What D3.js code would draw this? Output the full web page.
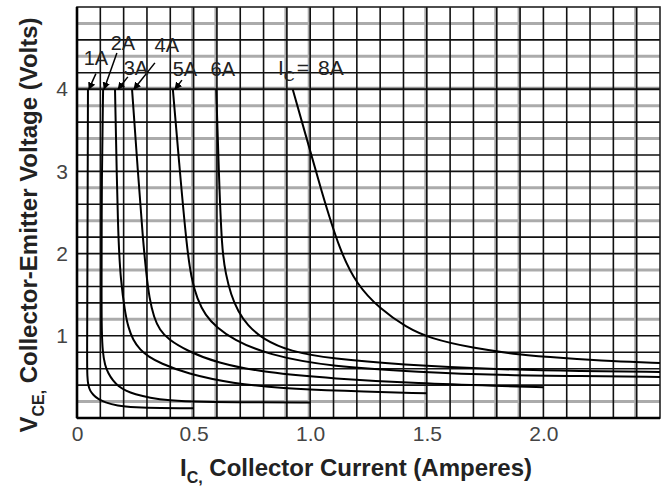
<!DOCTYPE html>
<html>
<head>
<meta charset="utf-8">
<script src="https://cdn.jsdelivr.net/npm/d3@7"></script>
<style>
  body { margin: 0; background: #fff; }
  svg { display: block; }
</style>
</head>
<body>
<div id="chart"></div>
<script>
(function() {

    // x = base current (A), y = VCE (V), one curve per collector current
    const curveNames = ["1A", "2A", "3A", "4A", "5A", "6A", "8A"];
    const curve1A = [[0.047,4.0],[0.045,2.0],[0.043,0.7],[0.044,0.5],[0.048,0.4],[0.056,0.33],[0.07,0.28],[0.09,0.23],[0.12,0.19],[0.17,0.15],[0.25,0.13],[0.35,0.12],[0.5,0.12]];
    const curve2A = [[0.112,4.0],[0.106,3.0],[0.105,1.4],[0.106,1.05],[0.110,0.8],[0.12,0.64],[0.133,0.55],[0.155,0.45],[0.176,0.39],[0.21,0.33],[0.247,0.29],[0.313,0.245],[0.39,0.215],[0.53,0.195],[0.75,0.19],[1.0,0.19]];
    const curve3A = [[0.163,4.0],[0.176,2.16],[0.188,1.67],[0.205,1.3],[0.22,1.1],[0.24,0.95],[0.27,0.83],[0.31,0.74],[0.355,0.67],[0.47,0.54],[0.668,0.42],[0.882,0.36],[1.126,0.33],[1.5,0.30]];
    const curve4A = [[0.236,4.0],[0.261,3.0],[0.283,2.16],[0.297,1.76],[0.31,1.46],[0.33,1.22],[0.355,1.07],[0.39,0.96],[0.47,0.82],[0.598,0.67],[0.812,0.55],[1.096,0.48],[1.469,0.42],[1.812,0.39],[2.0,0.375]];
    const curve5A = [[0.411,4.0],[0.441,3.0],[0.47,2.1],[0.49,1.7],[0.515,1.45],[0.55,1.25],[0.6,1.1],[0.668,0.96],[0.814,0.77],[1.096,0.62],[1.469,0.56],[1.812,0.52],[2.154,0.51],[2.5,0.5]];
    const curve6A = [[0.597,4.0],[0.608,3.0],[0.621,2.04],[0.638,1.75],[0.66,1.5],[0.69,1.3],[0.73,1.13],[0.797,0.96],[0.912,0.81],[1.096,0.72],[1.383,0.65],[1.812,0.59],[2.154,0.57],[2.5,0.56]];
    const curve8A = [[0.925,4.0],[0.976,3.49],[1.048,2.76],[1.126,2.04],[1.2,1.62],[1.298,1.33],[1.413,1.1],[1.512,0.97],[1.696,0.85],[1.897,0.77],[2.081,0.73],[2.296,0.69],[2.5,0.67]];
    const curves = [curve1A, curve2A, curve3A, curve4A, curve5A, curve6A, curve8A];

    // curve labels (text centre) and their pointer lines, in data units
    const labelText = ["1A", "2A", "3A", "4A", "5A", "6A"];
    const labelPos = [[0.081,4.38],[0.197,4.56],[0.253,4.26],[0.385,4.54],[0.463,4.25],[0.625,4.25]];
    const pointerFrom = [[0.081,4.19],[0.171,4.44],[0.218,4.15],[0.334,4.32],[0.45,4.11]];
    const pointerTo = [[0.051,4.0],[0.116,4.0],[0.176,4.0],[0.244,4.0],[0.42,4.0]];
    const icLabelPos = [0.862, 4.27];

    const xTicks = [0, 0.5, 1.0, 1.5, 2.0];
    const xTickLabels = ["0", "0.5", "1.0", "1.5", "2.0"];
    const yTicks = [1, 2, 3, 4];

    // scan grid: the lines that show up grey in the original
    const greyGridX = [0.5, 0.6, 0.9, 1.0, 1.5, 1.8, 1.9, 2.4];
    const greyGridY = [4.8, 4.4, 3.8, 3.4, 2.8, 2.4, 1.8, 1.2, 0.2];

    let width = 667,
        height = 487;
    let margin = {top: 7, right: 7, bottom: 69, left: 77};
    let w = width - margin.left - margin.right,
        h = height - margin.top - margin.bottom;

    let svg = d3.select("#chart")
        .append("svg")
        .attr("width", width)
        .attr("height", height)
        .append("g")
        .attr("transform", `translate(${margin.left}, ${margin.top})`);

    let x = d3.scaleLinear().domain([0, 2.5]).range([0, w]);
    let y = d3.scaleLinear().domain([0, 5]).range([h, 0]);

    let xGrid = d3.range(1, 25).map(i => i / 10);
    let yGrid = d3.range(1, 25).map(i => i / 5);

    // grey doubled lines first
    svg.selectAll(".gx").data(greyGridX).enter().append("line")
        .attr("x1", d => x(d) - 1).attr("x2", d => x(d) - 1)
        .attr("y1", 0).attr("y2", h)
        .attr("stroke", "#ababab").attr("stroke-width", 3);

    svg.selectAll(".gy").data(greyGridY).enter().append("line")
        .attr("x1", 0).attr("x2", w)
        .attr("y1", d => y(d)).attr("y2", d => y(d))
        .attr("stroke", "#ababab").attr("stroke-width", 3);

    // the 4 V line is doubled grey as well
    svg.append("line")
        .attr("x1", 0).attr("x2", w)
        .attr("y1", y(4) - 1).attr("y2", y(4) - 1)
        .attr("stroke", "#999").attr("stroke-width", 3);

    // black grid
    svg.selectAll(".vx").data(xGrid).enter().append("line")
        .attr("x1", d => x(d)).attr("x2", d => x(d))
        .attr("y1", 0).attr("y2", h)
        .attr("stroke", "#111").attr("stroke-width", 1.6);

    svg.selectAll(".hy").data(yGrid.filter(d => greyGridY.indexOf(d) < 0)).enter().append("line")
        .attr("x1", 0).attr("x2", w)
        .attr("y1", d => y(d)).attr("y2", d => y(d))
        .attr("stroke", "#111").attr("stroke-width", d => d === 4 ? 2 : 1.6);

    // frame
    svg.append("rect")
        .attr("x", 0).attr("y", 0).attr("width", w).attr("height", h)
        .attr("fill", "none").attr("stroke", "#222").attr("stroke-width", 1.6);
    svg.append("line").attr("x1", 0).attr("x2", 0).attr("y1", 0).attr("y2", h)
        .attr("stroke", "#000").attr("stroke-width", 2.6);
    svg.append("line").attr("x1", 0).attr("x2", w).attr("y1", h).attr("y2", h)
        .attr("stroke", "#000").attr("stroke-width", 2.6);

    // curves
    let line = d3.line()
        .x(d => x(d[0]))
        .y(d => y(d[1]))
        .curve(d3.curveBasis);

    svg.append("g")
        .selectAll("path")
        .data(curves)
        .enter()
        .append("path")
        .attr("d", line)
        .attr("fill", "none")
        .attr("stroke", "#000")
        .attr("stroke-width", 2);

    // pointers with small heads
    svg.append("defs").append("marker")
        .attr("id", "head")
        .attr("viewBox", "0 0 10 10")
        .attr("refX", 9).attr("refY", 5)
        .attr("markerWidth", 5).attr("markerHeight", 5)
        .attr("orient", "auto")
        .append("path")
        .attr("d", "M0,0L10,5L0,10z")
        .attr("fill", "#000");

    svg.selectAll(".ptr").data(pointerFrom).enter().append("line")
        .attr("x1", d => x(d[0])).attr("y1", d => y(d[1]))
        .attr("x2", (d, i) => x(pointerTo[i][0])).attr("y2", (d, i) => y(pointerTo[i][1]))
        .attr("stroke", "#000").attr("stroke-width", 1.5)
        .attr("marker-end", "url(#head)");

    // curve labels
    let labelFont = "'Liberation Sans', Arial, sans-serif";
    svg.selectAll(".lbl").data(labelText).enter().append("text")
        .attr("x", (d, i) => x(labelPos[i][0]))
        .attr("y", (d, i) => y(labelPos[i][1]))
        .attr("dy", "0.36em")
        .attr("text-anchor", "middle")
        .style("font-family", labelFont)
        .style("font-size", "20px")
        .style("fill", "#222")
        .text(d => d);

    let ic = svg.append("text")
        .attr("x", x(icLabelPos[0]))
        .attr("y", y(icLabelPos[1]))
        .attr("dy", "0.36em")
        .style("font-family", labelFont)
        .style("font-size", "21px")
        .style("fill", "#222");
    ic.append("tspan").text("I");
    ic.append("tspan").attr("dy", "6").style("font-size", "15px").text("C");
    ic.append("tspan").attr("dy", "-6").attr("dx", "2").text("=");
    ic.append("tspan").attr("dx", "9").text(curveNames[6]);

    // axes
    let tickFont = "'Liberation Sans', Arial, sans-serif";
    let xAxis = svg.append("g")
        .attr("transform", `translate(0, ${h})`)
        .call(d3.axisBottom(x).tickValues(xTicks).tickSize(0).tickPadding(8)
            .tickFormat((d, i) => xTickLabels[i]));
    let yAxis = svg.append("g")
        .call(d3.axisLeft(y).tickValues(yTicks).tickSize(0).tickPadding(9)
            .tickFormat(d3.format("d")));
    [xAxis, yAxis].forEach(a => {
        a.select(".domain").remove();
        a.selectAll("text")
            .style("font-family", tickFont)
            .style("font-size", "21px")
            .style("fill", "#444");
    });

    // axis titles
    let titleFont = "'Liberation Sans', Arial, sans-serif";
    let xt = svg.append("text")
        .attr("x", 356 - margin.left)
        .attr("y", 476 - margin.top)
        .attr("text-anchor", "middle")
        .style("font-family", titleFont)
        .style("font-weight", "bold")
        .style("font-size", "24px")
        .style("fill", "#222");
    xt.append("tspan").text("I");
    xt.append("tspan").attr("dy", "7").style("font-size", "16px").text("C,");
    xt.append("tspan").attr("dy", "-7").text(" Collector Current (Amperes)");

    let yt = svg.append("text")
        .attr("transform", `translate(${37 - margin.left}, ${225 - margin.top}) rotate(-90)`)
        .attr("text-anchor", "middle")
        .style("font-family", titleFont)
        .style("font-weight", "bold")
        .style("font-size", "24px")
        .style("fill", "#222");
    yt.append("tspan").text("V");
    yt.append("tspan").attr("dy", "7").style("font-size", "16px").text("CE,");
    yt.append("tspan").attr("dy", "-7").text(" Collector-Emitter Voltage (Volts)");

})();
</script>
</body>
</html>
